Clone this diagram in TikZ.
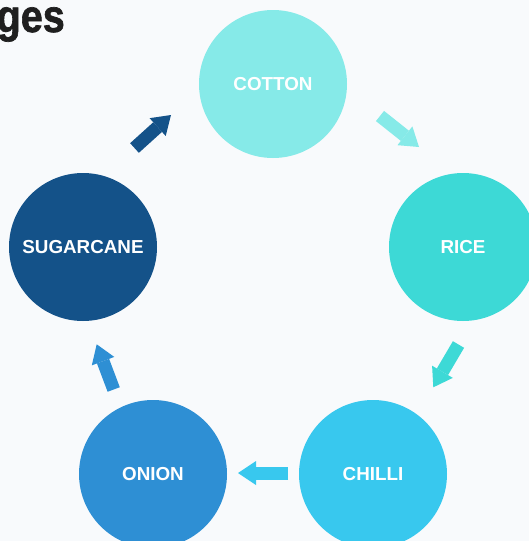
\documentclass[tikz,border=0pt]{standalone}
\usepackage{fontspec}
\setmainfont{Liberation Sans}
\newfontfamily\cropfont{Liberation Sans}
\newfontfamily\headfont{Liberation Sans Bold}[FakeBold=1.5]
\usetikzlibrary{arrows.meta}

\definecolor{bgpaper}{RGB}{248,250,252}
\definecolor{cottoncol}{RGB}{134,234,232}
\definecolor{ricecol}{RGB}{61,217,214}
\definecolor{chillicol}{RGB}{56,200,238}
\definecolor{onioncol}{RGB}{46,143,212}
\definecolor{sugarcol}{RGB}{20,82,137}

\tikzset{
  crop/.style={circle, minimum size=148pt, inner sep=0pt, text=white,
    font=\cropfont\bfseries\fontsize{18.8}{22}\selectfont},
  turn/.style={line width=13pt, -{Triangle[length=18pt,width=24pt,line width=0pt]}}
}

\begin{document}
\begin{tikzpicture}[x=1pt,y=-1pt]
\useasboundingbox (0,0) rectangle (529,541);
\clip (0,0) rectangle (529,541);
\fill[bgpaper] (0,0) rectangle (529,541);
% heading, cut at the left edge
\node[anchor=base east, inner sep=0pt, text=black!88,
  font=\headfont\fontsize{46}{50}\selectfont] (title) at (65,32) {\scalebox{0.86}[1]{ges}};
% crops
\node[crop, fill=cottoncol] (cotton) at (273,84) {COTTON};
\node[crop, fill=ricecol] (rice) at (463,247) {RICE};
\node[crop, fill=chillicol] (chilli) at (373,474) {CHILLI};
\node[crop, fill=onioncol] (onion) at (153,474) {ONION};
\node[crop, fill=sugarcol] (sugarcane) at (83,247) {SUGARCANE};
% rotation arrows
\coordinate (cotton out) at (380,116);
\coordinate (rice in) at (419,147);
\coordinate (rice out) at (458.5,344.5);
\coordinate (chilli in) at (433.3,387.3);
\coordinate (chilli out) at (288,473);
\coordinate (onion in) at (238,473);
\coordinate (onion out) at (113.7,389.5);
\coordinate (sugarcane in) at (96.7,344.3);
\coordinate (sugarcane out) at (134.5,148);
\coordinate (cotton in) at (171,115);
\draw[turn, cottoncol] (cotton out) -- (rice in);
\draw[turn, ricecol] (rice out) -- (chilli in);
\draw[turn, chillicol] (chilli out) -- (onion in);
\draw[turn, onioncol] (onion out) -- (sugarcane in);
\draw[turn, sugarcol] (sugarcane out) -- (cotton in);
\end{tikzpicture}
\end{document}
